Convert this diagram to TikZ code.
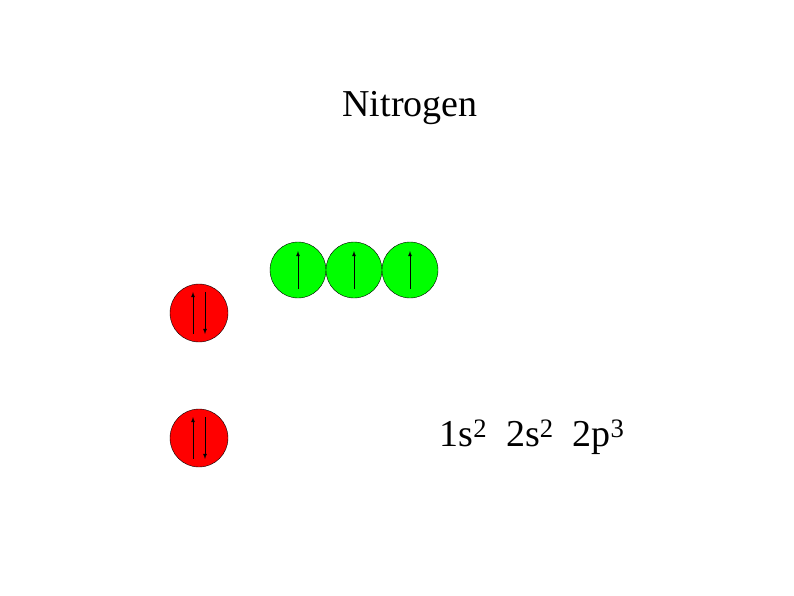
\documentclass[tikz,border=0pt]{standalone}
\usepackage{fontspec}
\setmainfont{Liberation Serif}
\begin{document}
\begin{tikzpicture}[x=1pt,y=-1pt,
  redorb/.style={circle,draw=black,fill=red,minimum size=58pt,inner sep=0pt},
  greenorb/.style={circle,draw=black,fill=green,minimum size=56pt,inner sep=0pt},
  spin/.style={-latex,line width=0.8pt},
  lbl/.style={font=\fontsize{38}{44}\selectfont}]
\useasboundingbox (0,0) rectangle (794,595);
\node[lbl] (title) at (410,108) {Nitrogen};
\node[redorb] (s2) at (199,313) {};
\node[redorb] (s1) at (199,438) {};
\node[greenorb] (p1) at (298,270) {};
\node[greenorb] (p2) at (354,270) {};
\node[greenorb] (p3) at (410,270) {};
\foreach \n in {s1,s2}{
  \draw[spin] ([xshift=-6pt,yshift=-21pt]\n.center) -- ([xshift=-6pt,yshift=21pt]\n.center);
  \draw[spin] ([xshift=6pt,yshift=21pt]\n.center) -- ([xshift=6pt,yshift=-21pt]\n.center);
}
\foreach \n in {p1,p2,p3}{
  \draw[spin] ([yshift=-19pt]\n.center) -- ([yshift=19pt]\n.center);
}
\node[lbl,anchor=west] (cfg) at (436,437) {1s\textsuperscript{2}\ \ 2s\textsuperscript{2}\ \ 2p\textsuperscript{3}};
\end{tikzpicture}
\end{document}
